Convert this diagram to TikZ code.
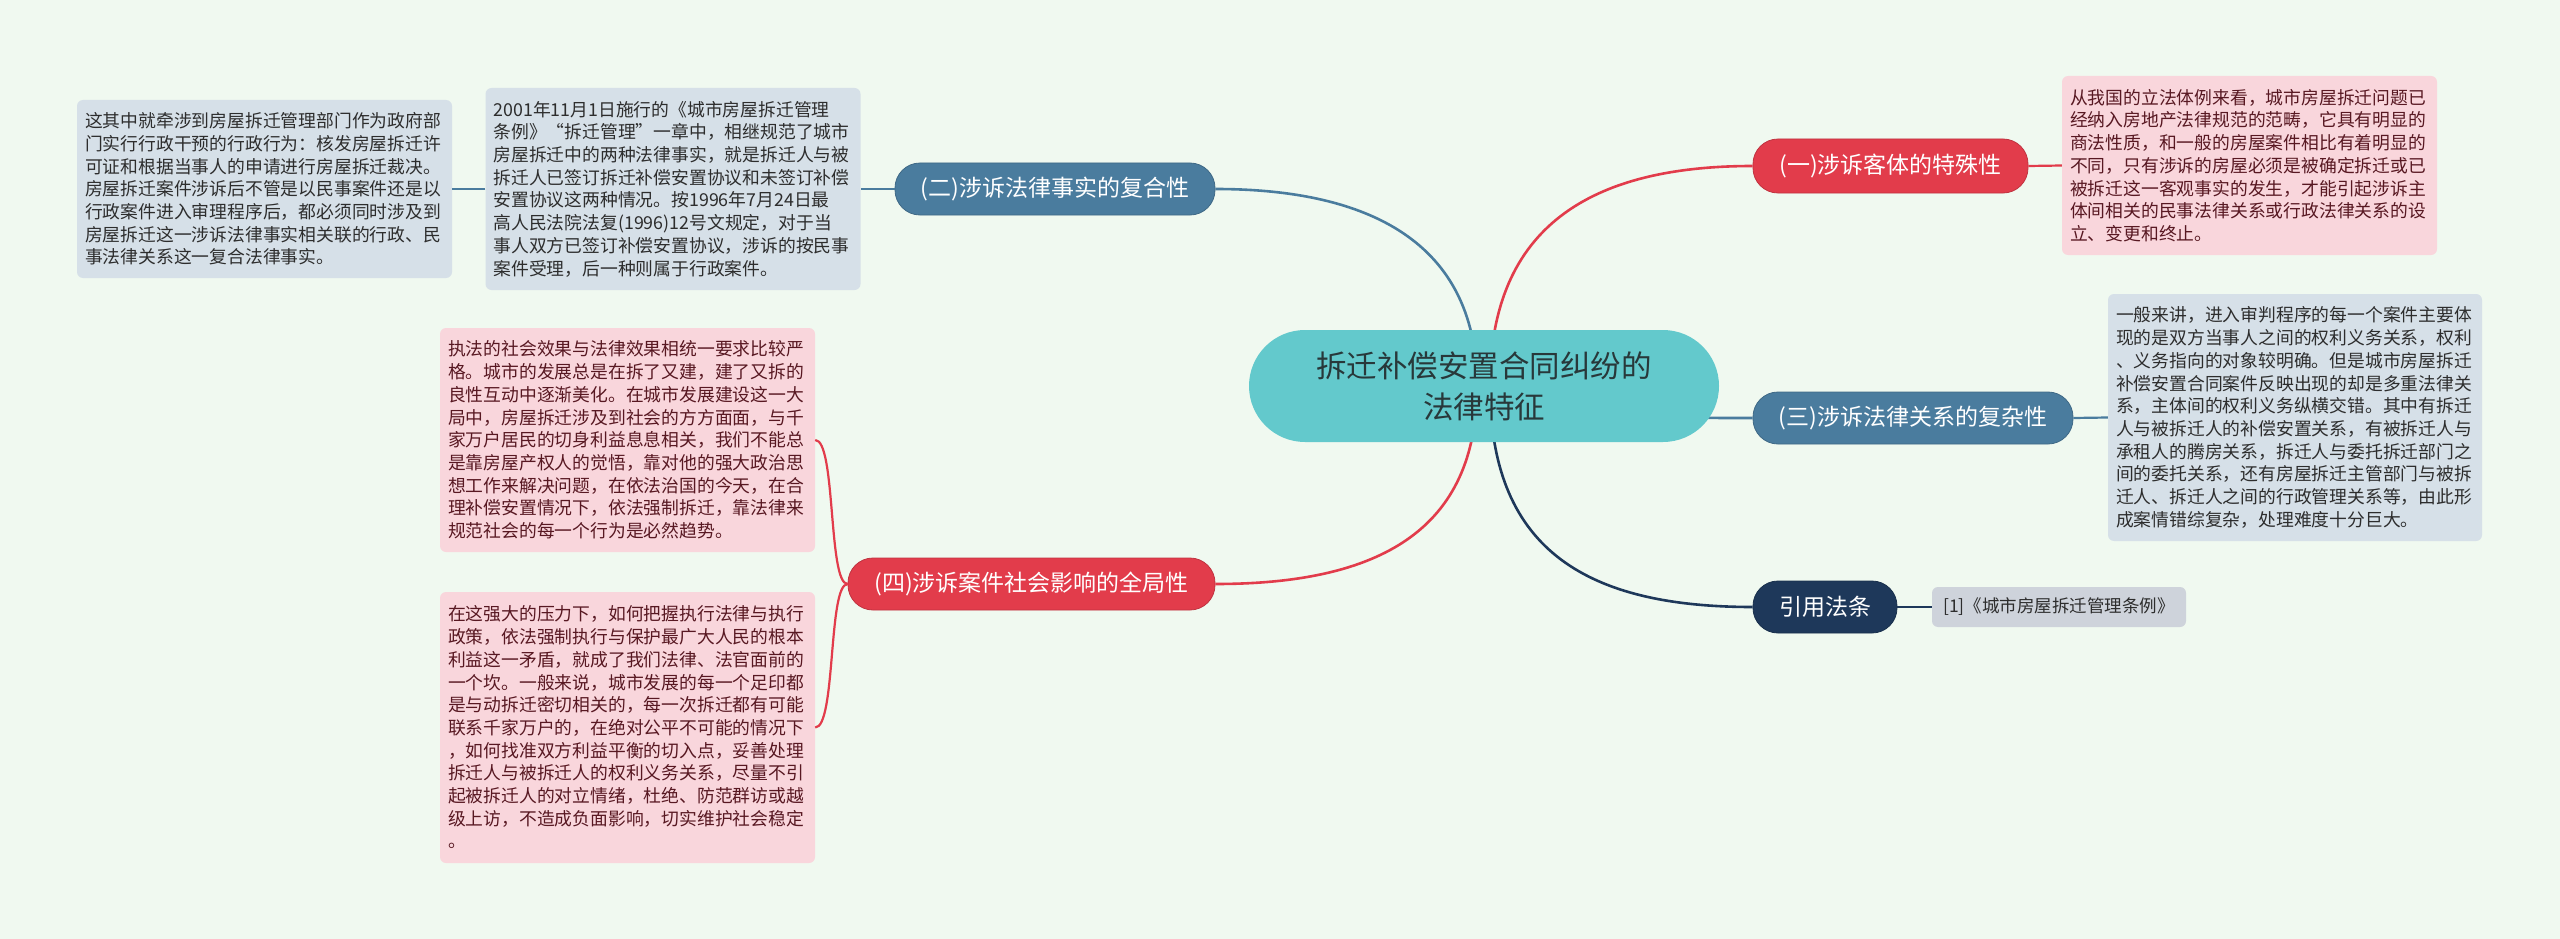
\documentclass[tikz,border=0pt]{standalone}
\usepackage{fontspec}
\setmainfont{Noto Sans CJK SC}
\definecolor{bgc}{RGB}{240,249,240}
\definecolor{teal}{RGB}{99,201,204}
\definecolor{bblue}{RGB}{74,124,158}
\definecolor{bred}{RGB}{226,60,75}
\definecolor{bnavy}{RGB}{30,56,90}
\definecolor{leafB}{RGB}{214,224,232}
\definecolor{leafP}{RGB}{249,214,220}
\definecolor{refg}{RGB}{206,211,219}
\definecolor{txtB}{RGB}{45,45,45}
\definecolor{txtP}{RGB}{88,24,34}
\definecolor{txtC}{RGB}{40,56,58}
\tikzset{
  x=1pt, y=-1pt,
  leafbase/.style={rectangle, rounded corners=6pt, align=left, inner xsep=8pt, inner ysep=0pt,
    text width=359pt, font=\fontsize{17.8}{22.7}\selectfont},
  leafblue/.style={leafbase, fill=leafB, text=txtB},
  leafpink/.style={leafbase, fill=leafP, text=txtP},
  branch/.style={rectangle, rounded corners=25pt, minimum height=52pt, inner sep=0pt,
    text=white, font=\fontsize{23}{28}\selectfont},
  conn/.style={line width=2.6pt},
  sub/.style={line width=2.2pt},
}
\begin{document}
\begin{tikzpicture}
\fill[bgc] (0,0) rectangle (2560,939);
\useasboundingbox (0,0) rectangle (2560,939);

% coordinates for connector origins
\coordinate (cl) at (1477,386);
\coordinate (cr) at (1490,386);

% leaves
\node[leafblue, minimum height=178pt] (L1) at (264.5,189) {这其中就牵涉到房屋拆迁管理部门作为政府部\\
门实行行政干预的行政行为：核发房屋拆迁许\\
可证和根据当事人的申请进行房屋拆迁裁决。\\
房屋拆迁案件涉诉后不管是以民事案件还是以\\
行政案件进入审理程序后，都必须同时涉及到\\
房屋拆迁这一涉诉法律事实相关联的行政、民\\
事法律关系这一复合法律事实。};

\node[leafblue, minimum height=202pt] (L2) at (673,189) {2001年11月1日施行的《城市房屋拆迁管理\\
条例》“拆迁管理”一章中，相继规范了城市\\
房屋拆迁中的两种法律事实，就是拆迁人与被\\
拆迁人已签订拆迁补偿安置协议和未签订补偿\\
安置协议这两种情况。按1996年7月24日最\\
高人民法院法复(1996)12号文规定，对于当\\
事人双方已签订补偿安置协议，涉诉的按民事\\
案件受理，后一种则属于行政案件。};

\node[leafpink, minimum height=224pt] (P1) at (627.5,440) {执法的社会效果与法律效果相统一要求比较严\\
格。城市的发展总是在拆了又建，建了又拆的\\
良性互动中逐渐美化。在城市发展建设这一大\\
局中，房屋拆迁涉及到社会的方方面面，与千\\
家万户居民的切身利益息息相关，我们不能总\\
是靠房屋产权人的觉悟，靠对他的强大政治思\\
想工作来解决问题，在依法治国的今天，在合\\
理补偿安置情况下，依法强制拆迁，靠法律来\\
规范社会的每一个行为是必然趋势。};

\node[leafpink, minimum height=271pt] (P2) at (627.5,727.5) {在这强大的压力下，如何把握执行法律与执行\\
政策，依法强制执行与保护最广大人民的根本\\
利益这一矛盾，就成了我们法律、法官面前的\\
一个坎。一般来说，城市发展的每一个足印都\\
是与动拆迁密切相关的，每一次拆迁都有可能\\
联系千家万户的，在绝对公平不可能的情况下\\
，如何找准双方利益平衡的切入点，妥善处理\\
拆迁人与被拆迁人的权利义务关系，尽量不引\\
起被拆迁人的对立情绪，杜绝、防范群访或越\\
级上访，不造成负面影响，切实维护社会稳定\\
。};

\node[leafpink, minimum height=179pt] (R1) at (2249.5,165.5) {从我国的立法体例来看，城市房屋拆迁问题已\\
经纳入房地产法律规范的范畴，它具有明显的\\
商法性质，和一般的房屋案件相比有着明显的\\
不同，只有涉诉的房屋必须是被确定拆迁或已\\
被拆迁这一客观事实的发生，才能引起涉诉主\\
体间相关的民事法律关系或行政法律关系的设\\
立、变更和终止。};

\node[leafblue, minimum height=247pt, text width=358pt] (R2) at (2295,417.5) {一般来讲，进入审判程序的每一个案件主要体\\
现的是双方当事人之间的权利义务关系，权利\\
、义务指向的对象较明确。但是城市房屋拆迁\\
补偿安置合同案件反映出现的却是多重法律关\\
系，主体间的权利义务纵横交错。其中有拆迁\\
人与被拆迁人的补偿安置关系，有被拆迁人与\\
承租人的腾房关系，拆迁人与委托拆迁部门之\\
间的委托关系，还有房屋拆迁主管部门与被拆\\
迁人、拆迁人之间的行政管理关系等，由此形\\
成案情错综复杂，处理难度十分巨大。};

% branches
\node[branch, fill=bblue, draw=bblue!85!black, line width=0.8pt, minimum width=320pt] (b2) at (1055,189) {(二)涉诉法律事实的复合性};
\node[branch, fill=bred, draw=bred!85!black, line width=0.8pt, minimum width=367pt] (b4) at (1031.5,584) {(四)涉诉案件社会影响的全局性};
\node[branch, fill=bred, draw=bred!85!black, line width=0.8pt, minimum width=275pt, minimum height=54pt] (b1) at (1890.5,166) {(一)涉诉客体的特殊性};
\node[branch, fill=bblue, draw=bblue!85!black, line width=0.8pt, minimum width=320pt] (b3) at (1913,418) {(三)涉诉法律关系的复杂性};
\node[branch, fill=bnavy, draw=bnavy!85!black, line width=0.8pt, minimum width=144pt] (bref) at (1825,607) {引用法条};
\node[rectangle, rounded corners=6pt, fill=refg, text=txtB, minimum width=254pt, minimum height=40pt, inner sep=0pt,
  font=\fontsize{17.5}{22}\selectfont] (ref) at (2059,607) {[1]《城市房屋拆迁管理条例》};

% connectors (drawn on background layer order: before center node)
\draw[conn, bblue] (cl) .. controls (1477,250) and (1380,189) .. (b2.east);
\draw[conn, bred] (cr) .. controls (1490,235) and (1580,166) .. (b1.west);
\draw[conn, bred] (cl) .. controls (1477,530) and (1380,584) .. (b4.east);
\draw[conn, bnavy] (cr) .. controls (1490,545) and (1580,607) .. (bref.west);
\draw[conn, bblue] (cr) .. controls (1600,418) and (1650,418) .. (b3.west);

\draw[sub, bblue] (b2.west) -- (L2.east);
\draw[sub, bblue] (L2.west) -- (L1.east);
\draw[sub, bred] (b1.east) -- (R1.west);
\draw[sub, bblue] (b3.east) -- (R2.west);
\draw[sub, bnavy] (bref.east) -- (ref.west);
\draw[sub, bred] (b4.west) .. controls (828,584) and (836,440) .. (P1.east);
\draw[sub, bred] (b4.west) .. controls (828,584) and (836,727.5) .. (P2.east);

% center
\node[rectangle, rounded corners=56pt, fill=teal, minimum width=470pt, minimum height=112pt, inner sep=0pt,
  align=center, text=txtC, font=\fontsize{30.5}{41}\selectfont] (c) at (1484,386) {拆迁补偿安置合同纠纷的\\法律特征};
\end{tikzpicture}
\end{document}
